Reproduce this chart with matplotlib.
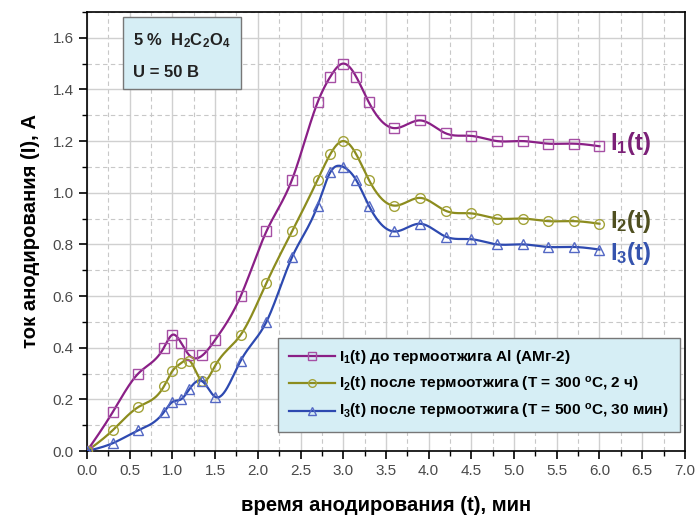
import numpy as np
import matplotlib
matplotlib.use("Agg")
import matplotlib.pyplot as plt
from matplotlib.ticker import MultipleLocator
from matplotlib.patches import Rectangle

plt.rcParams['font.family'] = ['Liberation Sans', 'DejaVu Sans']
plt.rcParams['mathtext.fontset'] = 'custom'
plt.rcParams['mathtext.rm'] = 'Liberation Sans'
plt.rcParams['mathtext.bf'] = 'Liberation Sans:bold'
plt.rcParams['mathtext.default'] = 'bf'

# time, min
t1 = [0, 0.3, 0.6, 0.9, 1.0, 1.1, 1.2, 1.35, 1.5, 1.8, 2.1, 2.4, 2.7, 2.85, 3.0,
      3.15, 3.3, 3.6, 3.9, 4.2, 4.5, 4.8, 5.1, 5.4, 5.7, 6.0]
I1 = [0, 0.15, 0.30, 0.40, 0.45, 0.42, 0.37, 0.37, 0.43, 0.60, 0.85, 1.05, 1.35, 1.45, 1.50,
      1.45, 1.35, 1.25, 1.28, 1.23, 1.22, 1.20, 1.20, 1.19, 1.19, 1.18]
I2 = [0, 0.08, 0.17, 0.25, 0.31, 0.34, 0.35, 0.27, 0.33, 0.45, 0.65, 0.85, 1.05, 1.15, 1.20,
      1.15, 1.05, 0.95, 0.98, 0.93, 0.92, 0.90, 0.90, 0.89, 0.89, 0.88]
I3 = [0, 0.03, 0.08, 0.15, 0.19, 0.20, 0.24, 0.27, 0.21, 0.35, 0.50, 0.75, 0.95, 1.08, 1.10,
      1.05, 0.95, 0.85, 0.88, 0.83, 0.82, 0.80, 0.80, 0.79, 0.79, 0.78]

labels = ['I$_1$(t) до термоотжига Al (АМг-2)',
          'I$_2$(t) после термоотжига (T = 300 $^o$C, 2 ч)',
          'I$_3$(t) после термоотжига (T = 500 $^o$C, 30 мин)']
end_labels = ['I$_1$(t)', 'I$_2$(t)', 'I$_3$(t)']


def spline(x, y, n=600):
    # natural cubic spline, just for drawing the connecting line
    x = np.asarray(x, float)
    y = np.asarray(y, float)
    k = len(x)
    h = np.diff(x)
    A = np.zeros((k, k))
    r = np.zeros(k)
    A[0, 0] = A[-1, -1] = 1
    for i in range(1, k - 1):
        A[i, i - 1] = h[i - 1]
        A[i, i] = 2 * (h[i - 1] + h[i])
        A[i, i + 1] = h[i]
        r[i] = 6 * ((y[i + 1] - y[i]) / h[i] - (y[i] - y[i - 1]) / h[i - 1])
    M = np.linalg.solve(A, r)
    xs = np.linspace(x[0], x[-1], n)
    j = np.clip(np.searchsorted(x, xs) - 1, 0, k - 2)
    a = x[j + 1] - xs
    b = xs - x[j]
    hj = h[j]
    ys = (M[j] * a**3 + M[j + 1] * b**3) / (6 * hj) \
        + (y[j] / hj - M[j] * hj / 6) * a + (y[j + 1] / hj - M[j + 1] * hj / 6) * b
    return xs, ys


fig = plt.figure(figsize=(6.96, 5.19), dpi=100)
ax = fig.add_axes([0.125, 0.131, 0.859, 0.846])

series = [
    (I1, '#8A1F86', '#A64FA4', 's', '#7B2077'),
    (I2, '#8C8C1E', '#A3A33A', 'o', '#4F4F20'),
    (I3, '#2D49B0', '#5468C4', '^', '#3553AE'),
]
handles = []
for (y, lc, mc, mk, tc), lab in zip(series, labels):
    xs, ys = spline(t1, y)
    ax.plot(xs, ys, color=lc, lw=1.6, zorder=3)
    ax.plot(t1, y, ls='none', marker=mk, ms=7, mfc='none', mec=mc, mew=1.0, zorder=4)
    h, = ax.plot([], [], color=lc, lw=1.6, marker=mk, ms=5.5, mfc='none', mec=mc, mew=1.0)
    handles.append(h)

ax.text(6.12, 1.19, end_labels[0], color='#7B2077', fontsize=17, fontweight='bold', va='center')
ax.text(6.12, 0.89, end_labels[1], color='#4F4F20', fontsize=17, fontweight='bold', va='center')
ax.text(6.12, 0.765, end_labels[2], color='#3553AE', fontsize=17, fontweight='bold', va='center')

ax.set_xlim(0, 7.0)
ax.set_ylim(0, 1.7)
ax.xaxis.set_major_locator(MultipleLocator(0.5))
ax.xaxis.set_minor_locator(MultipleLocator(0.25))
ax.yaxis.set_major_locator(MultipleLocator(0.2))
ax.yaxis.set_minor_locator(MultipleLocator(0.1))
ax.xaxis.set_major_formatter(plt.FormatStrFormatter('%.1f'))
ax.yaxis.set_major_formatter(plt.FormatStrFormatter('%.1f'))
ax.grid(which='major', color='#D0D0D0', lw=1.0, ls='-')
ax.grid(which='minor', color='#C8C8C8', lw=0.8, ls=(0, (4, 3)))
ax.set_axisbelow(True)
ax.tick_params(which='major', direction='out', length=6, width=1.2, labelsize=11,
               labelcolor='#4A4A4A')
ax.tick_params(which='minor', direction='out', length=3.5, width=1.0)
for s in ax.spines.values():
    s.set_linewidth(1.2)

ax.set_xlabel('время анодирования (t), мин', fontsize=14.6, fontweight='bold', labelpad=13)
ax.set_ylabel('ток анодирования (I), А', fontsize=14.6, fontweight='bold', labelpad=9)

ax.add_patch(Rectangle((0.060, 0.825), 0.197, 0.164, transform=ax.transAxes,
                       fc='#D6EEF5', ec='#777777', lw=1.0, zorder=5))
ax.text(0.077, 0.934, '5 %  H$_2$C$_2$O$_4$', transform=ax.transAxes, fontsize=12,
        fontweight='bold', va='center', ha='left', color='#222222', zorder=6)
ax.text(0.077, 0.863, 'U = 50 В', transform=ax.transAxes, fontsize=12,
        fontweight='bold', va='center', ha='left', color='#222222', zorder=6)

leg = ax.legend(handles, labels, loc='lower left', bbox_to_anchor=(0.319, 0.043),
                prop={'weight': 'bold', 'size': 11.1}, frameon=True,
                fancybox=False, handlelength=3.0, handletextpad=0.3,
                labelspacing=0.55, borderpad=0.7, borderaxespad=0)
leg.get_frame().set_facecolor('#D6EEF5')
leg.get_frame().set_edgecolor('#777777')
leg.get_frame().set_alpha(1)
leg.set_zorder(6)

fig.savefig('out.png', dpi=100)
